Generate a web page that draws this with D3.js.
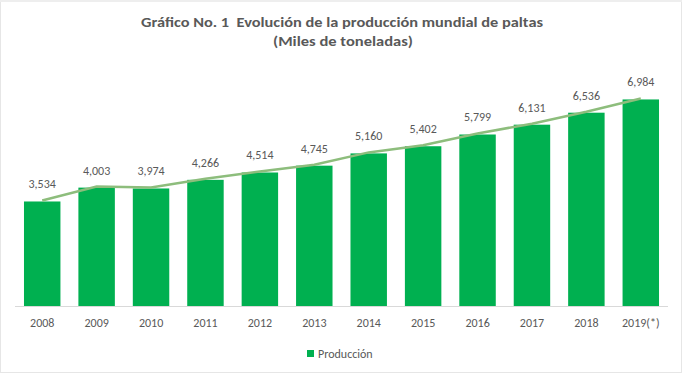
<!DOCTYPE html>
<html><head><meta charset="utf-8">
<script src="https://cdn.jsdelivr.net/npm/d3@7"></script>
<style>body{margin:0;background:#fff}svg{display:block}text{font-family:Carlito,Lato,"Open Sans",sans-serif}</style>
</head><body>
<svg id="c" width="682" height="375"></svg>
<script>
const categories = ["2008","2009","2010","2011","2012","2013","2014","2015","2016","2017","2018","2019(*)"];
const produccion = [3534,4003,3974,4266,4514,4745,5160,5402,5799,6131,6536,6984];
const titleLines = ["Gráfico No. 1  Evolución de la producción mundial de paltas","(Miles de toneladas)"];
const legendLabel = "Producción";

const svg = d3.select("#c");
svg.append("rect").attr("x",0.5).attr("y",1.5).attr("width",681).attr("height",371)
  .attr("fill","#fff").attr("stroke","#e6e6e6").attr("stroke-width",1);
svg.append("rect").attr("x",0).attr("y",0).attr("width",682).attr("height",2).attr("fill","#eeeeee");

const x = d3.scaleBand().domain(categories).range([15,668]).paddingInner(0.33).paddingOuter(0.165);
const y = d3.scaleLinear().domain([0,8000]).range([306,69.4]);

const titleX = [[141,543],[273,413]];
const titleY = [27,46];
svg.selectAll("text.title").data(titleLines).join("text").attr("class","title")
  .attr("x",(d,i)=>titleX[i][0]).attr("y",(d,i)=>titleY[i])
  .attr("textLength",(d,i)=>titleX[i][1]-titleX[i][0]).attr("lengthAdjust","spacingAndGlyphs")
  .style("white-space","pre").attr("xml:space","preserve")
  .attr("font-size",14.5).attr("font-weight","bold").attr("fill","#595959").text(d=>d);

svg.selectAll("rect.bar").data(produccion).join("rect").attr("class","bar")
  .attr("x",(d,i)=>x(categories[i])).attr("width",x.bandwidth())
  .attr("y",d=>y(d)).attr("height",d=>y(0)-y(d)).attr("fill","#00b050");

svg.append("line").attr("x1",15).attr("x2",668).attr("y1",306.5).attr("y2",306.5)
  .attr("stroke","#d9d9d9").attr("stroke-width",1);

const line = d3.line().x((d,i)=>x(categories[i])+x.bandwidth()/2).y(d=>y(d)-1);
svg.append("path").datum(produccion).attr("d",line).attr("fill","none")
  .attr("stroke","#8dbd7c").attr("stroke-width",2.5);

svg.selectAll("text.val").data(produccion).join("text").attr("class","val")
  .attr("x",(d,i)=>x(categories[i])+x.bandwidth()/2).attr("y",d=>y(d)-13)
  .attr("text-anchor","middle").attr("font-size",12).attr("fill","#595959")
  .text(d=>d3.format(",")(d));

const xAxis = svg.append("g").attr("transform","translate(0,306)")
  .call(d3.axisBottom(x).tickSize(0).tickPadding(12));
xAxis.select(".domain").remove();
xAxis.selectAll("text").attr("font-size",12).attr("fill","#595959")
  .style("font-family","Carlito,Lato,'Open Sans',sans-serif");

const lg = svg.append("g").attr("transform","translate(307,350)");
lg.append("rect").attr("width",7).attr("height",7).attr("fill","#00b050");
lg.append("text").attr("x",11).attr("y",7.5).attr("font-size",12).attr("fill","#595959").text(legendLabel);
</script>
</body></html>
